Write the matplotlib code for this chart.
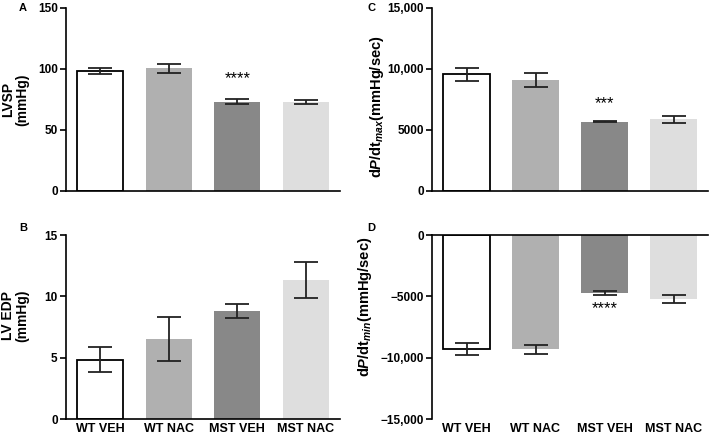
import matplotlib
matplotlib.use("Agg")
import matplotlib.pyplot as plt
from matplotlib.ticker import FixedLocator, FixedFormatter

plt.rcParams['font.family'] = ['Liberation Sans', 'DejaVu Sans']
plt.rcParams['font.weight'] = 'bold'
plt.rcParams['mathtext.fontset'] = 'custom'
plt.rcParams['mathtext.rm'] = 'Liberation Sans:bold'
plt.rcParams['mathtext.bf'] = 'Liberation Sans:bold'
plt.rcParams['mathtext.it'] = 'Liberation Sans:bold:italic'

groups = ["WT VEH", "WT NAC", "MST VEH", "MST NAC"]
bar_colors = ["white", "#b0b0b0", "#888888", "#dedede"]

lvsp = [98.5, 100.5, 73.2, 72.7]
lvsp_err = [2.6, 3.8, 1.9, 1.6]

lvedp = [4.83, 6.51, 8.81, 11.34]
lvedp_err = [1.0, 1.8, 0.6, 1.45]

dpdt_max = [9565, 9103, 5679, 5870]
dpdt_max_err = [530, 570, 40, 310]

dpdt_min = [-9293, -9324, -4757, -5216]
dpdt_min_err = [450, 380, 160, 310]

W, H = 709, 434
fig = plt.figure(figsize=(W / 100, H / 100), dpi=100)


def add_ax(left, top, right, bottom):
    return fig.add_axes([left / W, 1 - bottom / H, (right - left) / W, (bottom - top) / H])


axA = add_ax(66, 8, 340, 191)
axB = add_ax(66, 235, 340, 419)
axC = add_ax(432, 8, 708, 191)
axD = add_ax(432, 235, 708, 419)

x = list(range(len(groups)))
tick_fs = 8.5


def draw(ax, vals, errs, yticks, yticklabels, ylim):
    for i, (v, e) in enumerate(zip(vals, errs)):
        if bar_colors[i] == "white":
            ax.bar(i, v, width=0.67, color="white", edgecolor="black", linewidth=1.3, zorder=2)
        else:
            ax.bar(i, v, width=0.67, color=bar_colors[i], edgecolor="none", zorder=2)
        ax.errorbar(i, v, yerr=e, fmt="none", ecolor="#222222", elinewidth=1.3,
                    capsize=8.5, capthick=1.3, zorder=3)
    ax.set_xlim(-0.5, 3.5)
    ax.set_ylim(*ylim)
    ax.yaxis.set_major_locator(FixedLocator(yticks))
    ax.yaxis.set_major_formatter(FixedFormatter(yticklabels))
    ax.tick_params(axis='y', direction='out', length=4, width=1.2, labelsize=tick_fs, pad=2)
    ax.tick_params(axis='x', length=0, labelsize=9, pad=3)
    ax.set_xticks(x)
    for s in ['top', 'right']:
        ax.spines[s].set_visible(False)
    for s in ['left', 'bottom']:
        ax.spines[s].set_linewidth(1.2)
    for lab in ax.get_yticklabels() + ax.get_xticklabels():
        lab.set_fontweight('bold')


draw(axA, lvsp, lvsp_err, [0, 50, 100, 150], ["0", "50", "100", "150"], (0, 150))
axA.set_xticklabels([])
draw(axB, lvedp, lvedp_err, [0, 5, 10, 15], ["0", "5", "10", "15"], (0, 15))
axB.set_xticklabels(groups)
draw(axC, dpdt_max, dpdt_max_err, [0, 5000, 10000, 15000], ["0", "5000", "10,000", "15,000"], (0, 15000))
axC.set_xticklabels([])
draw(axD, dpdt_min, dpdt_min_err, [-15000, -10000, -5000, 0],
     ["\u221215,000", "\u221210,000", "\u22125000", "0"], (-15000, 0))
axD.set_xticklabels(groups)
axD.spines['bottom'].set_visible(False)
axD.spines['top'].set_visible(True)
axD.spines['top'].set_linewidth(1.2)

# y labels
axA.set_ylabel("LVSP\n(mmHg)", fontsize=10, fontweight='bold', linespacing=1.0)
axA.yaxis.set_label_coords(-0.135, 0.5)
axB.set_ylabel("LV EDP\n(mmHg)", fontsize=10, fontweight='bold', linespacing=1.0)
axB.yaxis.set_label_coords(-0.135, 0.56)
axC.set_ylabel(r"d$\mathit{P}$/dt$_{\mathit{max}}$(mmHg/sec)", fontsize=10.5, fontweight='bold')
axC.yaxis.set_label_coords(-0.165, 0.46)
axD.set_ylabel(r"d$\mathit{P}$/dt$_{\mathit{min}}$(mmHg/sec)", fontsize=10.5, fontweight='bold')
axD.yaxis.set_label_coords(-0.21, 0.61)

# significance markers
axA.text(2, 92, "****", ha='center', va='center', fontsize=12, fontweight='normal')
axC.text(2, 7174, "***", ha='center', va='center', fontsize=12, fontweight='normal')
axD.text(2, -6027, "****", ha='center', va='center', fontsize=12, fontweight='normal')

# panel letters
for lbl, px, py in [("A", 23, 8), ("B", 23, 228), ("C", 372, 8), ("D", 371, 228)]:
    fig.text(px / W, 1 - py / H, lbl, ha='center', va='center', fontsize=8, fontweight='bold')

fig.savefig("out.png", dpi=100)
